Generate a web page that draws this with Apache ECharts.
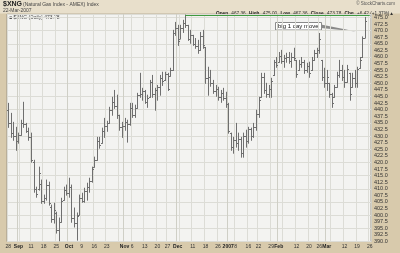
<!DOCTYPE html>
<html><head><meta charset="utf-8">
<script src="https://cdn.jsdelivr.net/npm/echarts@6/dist/echarts.min.js"></script>
<style>html,body{margin:0;padding:0;background:#d8caac;}#c{width:400px;height:253px;}</style>
</head><body><div id="c"></div>
<script>
// Trading days (MM-DD), Aug 28 2006 .. Mar 22 2007, plus two future slots
const categories = ("08-28 08-29 08-30 08-31 09-01 09-05 09-06 09-07 09-08 09-11 09-12 09-13 09-14 09-15 09-18 09-19 09-20 09-21 09-22 09-25 09-26 09-27 09-28 09-29 " +
 "10-02 10-03 10-04 10-05 10-06 10-09 10-10 10-11 10-12 10-13 10-16 10-17 10-18 10-19 10-20 10-23 10-24 10-25 10-26 10-27 10-30 10-31 " +
 "11-01 11-02 11-03 11-06 11-07 11-08 11-09 11-10 11-13 11-14 11-15 11-16 11-17 11-20 11-21 11-22 11-24 11-27 11-28 11-29 11-30 " +
 "12-01 12-04 12-05 12-06 12-07 12-08 12-11 12-12 12-13 12-14 12-15 12-18 12-19 12-20 12-21 12-22 12-26 12-27 12-28 12-29 " +
 "01-03 01-04 01-05 01-08 01-09 01-10 01-11 01-12 01-16 01-17 01-18 01-19 01-22 01-23 01-24 01-25 01-26 01-29 01-30 01-31 " +
 "02-01 02-02 02-05 02-06 02-07 02-08 02-09 02-12 02-13 02-14 02-15 02-16 02-20 02-21 02-22 02-23 02-26 02-27 02-28 " +
 "03-01 03-02 03-05 03-06 03-07 03-08 03-09 03-12 03-13 03-14 03-15 03-16 03-19 03-20 03-21 03-22 03-23 03-26").split(" ");

const openV = [440.0,435.0,431.0,430.0,428.0,430.5,435.0,434.5,432.0,429.5,420.0,410.0,410.0,412.0,405.5,406.5,411.5,403.0,398.5,401.0,
 394.5,397.5,405.7,409.5,408.5,410.5,399.0,397.0,400.0,406.5,405.5,409.0,410.5,413.0,418.2,421.0,428.0,427.3,432.0,434.0,
 435.0,440.0,443.0,441.5,437.9,433.5,434.0,435.5,434.5,440.5,438.0,440.5,445.5,446.0,447.0,443.0,444.7,450.5,446.0,447.5,
 448.5,452.0,451.1,453.5,452.7,455.0,469.0,471.0,467.0,471.0,473.0,472.0,467.0,468.2,465.0,464.0,462.5,468.0,463.6,452.0,
 452.5,450.0,447.0,448.0,445.0,446.5,444.5,442.0,431.1,426.0,428.5,427.5,429.0,423.5,430.0,428.0,432.5,430.0,433.5,438.5,
 444.7,452.5,447.5,446.0,448.0,453.0,458.0,458.0,460.5,458.5,459.5,460.0,458.5,460.0,458.7,455.0,457.5,458.0,455.0,456.5,
 455.0,459.0,461.5,462.5,458.7,452.5,450.0,450.0,446.0,444.7,448.5,453.0,455.0,452.5,450.5,453.8,448.5,452.0,450.0,455.7,
 459.8,467.36];
const highV = [442.4,438.6,435.2,433.3,431.1,436.0,442.8,434.8,433.0,431.1,420.8,410.6,418.2,413.3,407.6,413.3,412.5,403.8,404.5,401.1,
 398.9,406.4,410.6,411.4,414.0,411.4,402.7,400.8,407.6,408.3,410.2,412.1,414.0,418.2,422.0,429.5,429.5,433.0,436.7,435.6,
 440.9,444.7,447.3,445.5,437.9,435.2,436.7,436.0,442.4,442.4,441.7,446.2,453.8,448.1,447.3,445.5,451.1,453.0,448.1,449.2,
 453.0,454.2,454.2,453.8,455.7,470.1,473.1,472.0,472.0,473.9,475.9,472.0,470.1,468.2,467.0,466.3,469.3,470.1,463.6,456.1,
 454.9,451.1,449.2,448.5,447.3,448.1,446.6,442.4,431.1,429.5,434.8,431.1,429.5,431.1,432.2,433.3,433.0,434.8,439.8,444.7,
 453.8,453.8,450.0,449.2,451.9,458.7,459.8,461.7,462.5,460.6,461.4,461.7,461.4,463.3,458.7,458.7,459.8,458.7,457.6,458.0,
 459.8,462.5,463.3,468.9,458.7,455.7,454.9,450.0,446.2,449.2,454.2,458.7,456.8,454.9,456.8,453.8,453.8,454.9,456.1,459.8,
 467.6,475.0];
const lowV = [433.3,429.5,428.4,424.6,427.3,430.3,433.3,431.4,428.4,420.1,408.7,406.8,409.5,404.5,404.5,405.7,403.8,397.3,397.0,393.2,
 390.2,397.3,405.7,407.6,406.8,397.3,395.5,390.5,400.0,404.9,404.9,405.7,408.7,412.5,418.2,420.8,425.4,427.3,429.5,431.8,
 434.8,437.9,440.5,436.7,432.2,429.5,432.2,427.7,434.1,437.1,437.1,440.5,444.7,443.6,442.4,440.9,444.7,444.7,439.8,443.6,
 445.5,449.2,451.1,447.3,452.7,454.9,468.2,464.4,467.0,469.3,471.2,466.3,465.2,464.4,463.3,461.4,462.5,463.3,450.0,445.5,
 448.9,446.2,445.1,443.6,442.8,443.6,440.9,431.1,424.6,423.5,425.8,424.6,422.0,422.0,425.8,427.3,428.4,429.5,432.2,437.1,
 444.7,446.2,444.7,444.7,444.7,453.0,456.1,458.0,457.6,456.1,458.0,457.6,456.1,458.7,452.3,454.9,456.1,453.8,454.2,452.3,
 454.9,458.7,459.8,461.4,451.1,448.5,447.3,444.7,440.9,444.7,448.5,452.3,451.1,448.5,450.4,443.6,448.5,448.5,448.5,455.7,
 459.8,467.36];
const closeV = [435.0,431.0,430.0,428.0,430.5,435.0,434.5,432.0,429.5,421.0,410.0,408.0,416.0,405.5,406.5,411.5,404.5,398.5,402.0,394.5,
 397.5,405.5,409.5,408.5,410.5,399.0,397.0,399.5,406.5,405.5,409.0,410.5,413.0,417.5,421.0,428.0,426.5,432.0,434.0,435.0,
 440.0,443.0,441.5,438.0,433.5,434.0,435.5,434.5,440.5,438.0,440.5,445.5,446.0,447.0,443.0,444.5,450.5,446.0,447.5,448.5,
 452.0,451.0,453.5,448.0,455.0,469.0,471.0,466.0,471.0,473.0,472.0,467.0,468.5,465.0,464.0,462.5,468.0,464.5,452.0,452.5,
 450.0,447.0,448.0,445.0,446.5,444.5,442.0,432.0,426.0,428.5,427.5,429.0,423.5,430.0,428.0,432.5,430.0,433.5,438.5,443.5,
 452.5,447.5,446.0,448.0,451.0,458.0,457.0,460.5,458.5,459.5,460.0,458.5,460.0,459.5,453.5,457.5,458.0,455.0,456.5,454.0,
 459.0,461.5,462.5,467.0,452.5,450.0,452.5,446.0,442.5,448.5,453.0,455.0,452.5,450.5,455.5,446.0,452.0,450.0,455.5,459.0,
 467.36,473.78];

// X tick labels (category -> text); bold ones are period names
const tickLabels = {"08-28":"28","09-01":"Sep","09-11":"11","09-18":"18","09-25":"25","10-02":"Oct","10-09":"9","10-16":"16","10-23":"23",
 "11-01":"Nov","11-06":"6","11-13":"13","11-20":"20","11-27":"27","12-01":"Dec","12-11":"11","12-18":"18","12-26":"26",
 "01-03":"2007","01-08":"8","01-16":"16","01-22":"22","01-29":"29","02-01":"Feb","02-12":"12","02-20":"20","02-26":"26",
 "03-01":"Mar","03-12":"12","03-19":"19","03-26":"26"};
const periodLabels = ["Sep","Oct","Nov","Dec","2007","Feb","Mar"];
// weekly grid lines (first trading day of each week)
const weekStarts = ["08-28","09-05","09-11","09-18","09-25","10-02","10-09","10-16","10-23","10-30","11-06","11-13","11-20","11-27",
 "12-04","12-11","12-18","12-26","01-03","01-08","01-16","01-22","01-29","02-05","02-12","02-20","02-26","03-05","03-12","03-19","03-26"];
const monthStarts = ["09-01","10-02","11-01","12-01","01-03","02-01","03-01"];
const yMin = 390, yMax = 476.3, yStep = 2.5, gridStep = 5;
const resistance = 475.9; // green line level from the December high
const resistanceFrom = "12-06";

const data = openV.map((o,i)=>[i, o, highV[i], lowV[i], closeV[i]]);

function renderItem(params, api){
  const i = api.value(0);
  const pO = api.coord([i, api.value(1)]);
  const pH = api.coord([i, api.value(2)]);
  const pL = api.coord([i, api.value(3)]);
  const pC = api.coord([i, api.value(4)]);
  const x = Math.round(pH[0]) + 0.5;
  const st = {stroke:'#6f6f6f', lineWidth:1};
  return {type:'group', children:[
    {type:'line', shape:{x1:x, y1:pH[1]-0.5, x2:x, y2:pL[1]+0.5}, style:st},
    {type:'line', shape:{x1:x-1.5, y1:Math.round(pO[1])+0.5, x2:x, y2:Math.round(pO[1])+0.5}, style:st},
    {type:'line', shape:{x1:x, y1:Math.round(pC[1])+0.5, x2:x+1.5, y2:Math.round(pC[1])+0.5}, style:st}
  ]};
}

const chart = echarts.init(document.getElementById('c'), null, {renderer:'canvas'});
const F = 'Liberation Sans, Arial, sans-serif';
chart.setOption({
  animation:false,
  backgroundColor:'#d8caac',
  grid:{left:7, right:29, top:14, bottom:11.5, show:true, backgroundColor:'#f3f3f1', borderColor:'#9d9586', borderWidth:1},
  xAxis:[{
    type:'category', data:categories, boundaryGap:true,
    axisLine:{show:false}, axisTick:{show:false},
    axisLabel:{interval:(idx,val)=>tickLabels[val]!==undefined, margin:3, fontSize:5, fontFamily:F, color:'#333',
      formatter:(val)=>periodLabels.includes(tickLabels[val]) ? '{b|'+tickLabels[val]+'}' : tickLabels[val],
      rich:{b:{fontSize:5, fontWeight:'bold', fontFamily:F, color:'#222'}}},
    splitLine:{show:true, interval:(idx,val)=>weekStarts.includes(val), lineStyle:{color:'#dcdcd6', width:1}}
  },{
    type:'category', data:categories, boundaryGap:true, position:'bottom',
    axisLine:{show:false}, axisTick:{show:false}, axisLabel:{show:false},
    splitLine:{show:true, interval:(idx,val)=>monthStarts.includes(val), lineStyle:{color:'#cfcfc6', width:1}}
  }],
  yAxis:[{
    type:'value', position:'right', min:yMin, max:yMax, interval:yStep,
    axisLine:{show:false}, axisTick:{show:false}, splitLine:{show:false},
    axisLabel:{showMaxLabel:false, margin:3, fontSize:5.5, fontFamily:F, color:'#333', formatter:(v)=>v.toFixed(1)}
  },{
    type:'value', position:'right', min:yMin, max:yMax, interval:gridStep,
    axisLine:{show:false}, axisTick:{show:false}, axisLabel:{show:false},
    splitLine:{show:true, lineStyle:{color:'#dcdcd6', width:1}}
  }],
  series:[{
    type:'custom', renderItem:renderItem, data:data, encode:{x:0, y:[1,2,3,4]}, clip:true,
    markLine:{silent:true, symbol:'none', label:{show:false}, lineStyle:{color:'#3f9a3f', width:1, type:'solid'},
      data:[[{coord:[resistanceFrom, resistance]},{coord:[categories[categories.length-1], resistance]}]]}
  }],
  graphic:[
    {type:'rect', left:0, top:0, shape:{width:400, height:13.5}, style:{fill:'#e8dfcb'}, silent:true},
    {type:'text', left:3, top:1, style:{text:'$XNG', font:'bold 7px '+F, fill:'#222'}},
    {type:'text', left:23, top:2.5, style:{text:'(Natural Gas Index - AMEX) Index', font:'5px '+F, fill:'#444'}},
    {type:'text', left:3, top:8.5, style:{text:'22-Mar-2007', font:'5px '+F, fill:'#444'}},
    {type:'text', right:5, top:1, style:{text:'© StockCharts.com', font:'4.5px '+F, fill:'#555'}},
    {type:'text', right:6, top:7.5, style:{rich:{
        k:{font:'bold 4.7px '+F, fill:'#222'}, v:{font:'4.7px '+F, fill:'#333'}},
      text:'{k|Open} {v|467.36} {k|High} {v|475.00} {k|Low} {v|467.36} {k|Close} {v|473.78} {k|Chg} {v|+6.42 (+1.37%)▲}'}},
    {type:'text', left:9, top:15.5, style:{text:'■ $XNG (Daily) 473.78', font:'5px '+F, fill:'#444'}},
    {type:'polygon', shape:{points:[[321,24.5],[321,28],[356,31.5]]}, style:{fill:'#8a8a8a'}},
    {type:'rect', shape:{x:275.5, y:22.5, width:46, height:7.5}, style:{fill:'#ffffff', stroke:'#8a8a8a', lineWidth:1}},
    {type:'text', left:278, top:23.5, style:{text:'big 1 day move', font:'6px '+F, fill:'#111'}}
  ]
});
</script></body></html>
